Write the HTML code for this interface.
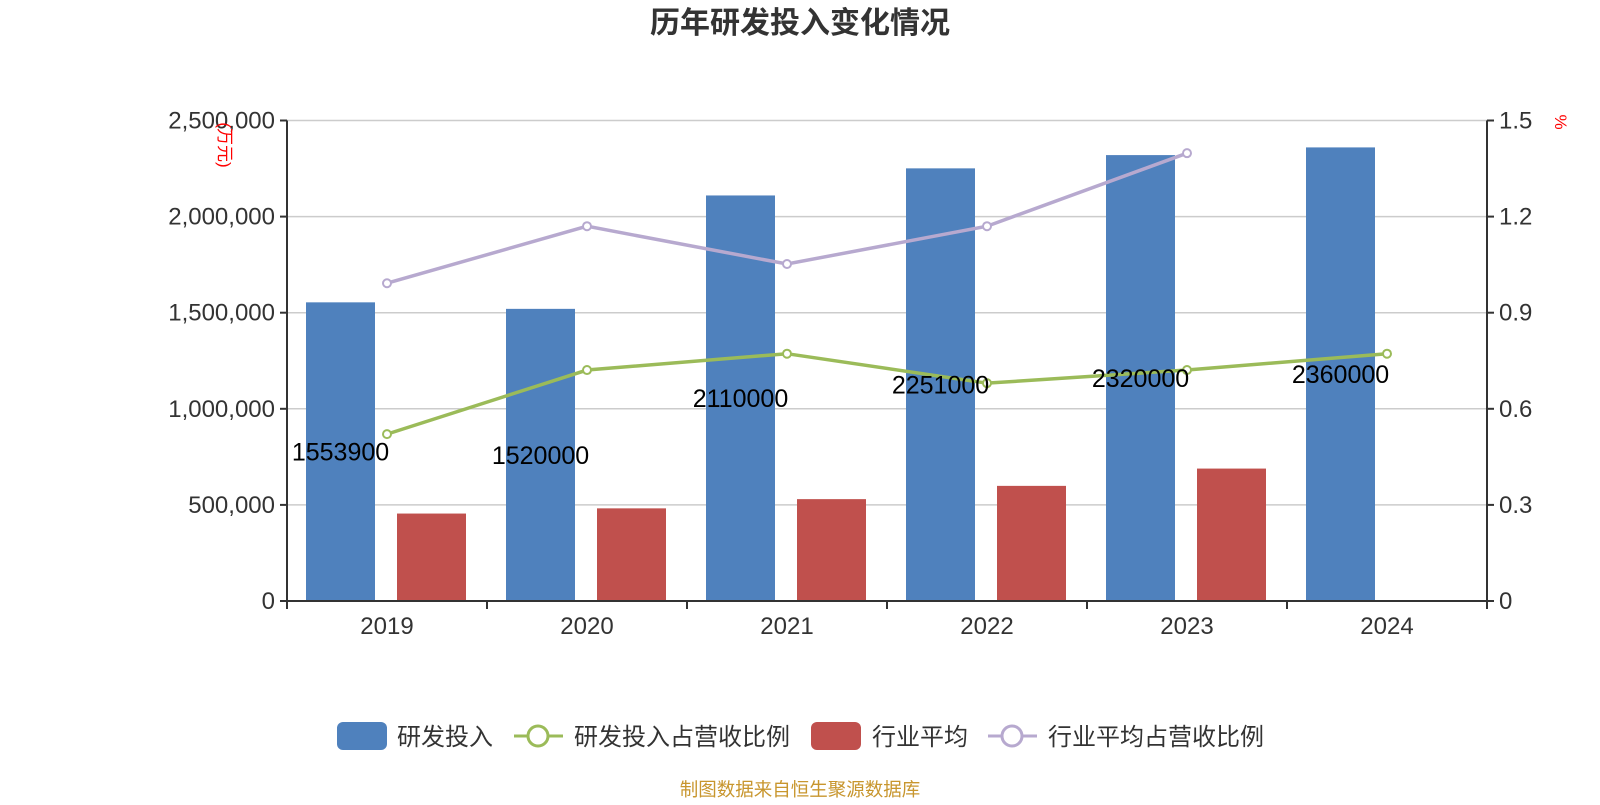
<!DOCTYPE html>
<html><head><meta charset="utf-8"><style>
body{margin:0;background:#fff;}
svg text{font-family:"Liberation Sans","Noto Sans CJK SC",sans-serif;}
</style></head><body>
<svg id="c" width="1600" height="800" xmlns="http://www.w3.org/2000/svg"></svg>
<script>
const categories=['2019','2020','2021','2022','2023','2024'];
const rdValues=[1553900,1520000,2110000,2251000,2320000,2360000];
const industryAvg=[455000,482000,530000,599000,689000,null];
const rdRatio=[0.521,0.721,0.772,0.68,0.721,0.772];
const industryRatio=[0.992,1.17,1.052,1.17,1.398,null];
const leftTicks=[0,500000,1000000,1500000,2000000,2500000];
const leftTickLabels=['0','500,000','1,000,000','1,500,000','2,000,000','2,500,000'];
const rightTicks=[0,0.3,0.6,0.9,1.2,1.5];
const rightTickLabels=['0','0.3','0.6','0.9','1.2','1.5'];

const svg=document.getElementById('c');
const NS='http://www.w3.org/2000/svg';
const L=287,R=1487,T=120.5,B=601;
const band=(R-L)/categories.length;
const yL=v=>B-(v/2500000)*(B-T);
const yR=v=>B-(v/1.5)*(B-T);
const xC=i=>L+band*(i+0.5);
function mk(tag,attrs,parent){const e=document.createElementNS(NS,tag);for(const k in attrs)e.setAttribute(k,attrs[k]);(parent||svg).appendChild(e);return e;}
function tx(x,y,s,attrs,parent){const e=mk('text',Object.assign({x:x,y:y},attrs),parent);e.textContent=s;return e;}

let t=tx(800,33,'历年研发投入变化情况',{'font-size':30,'font-weight':'bold','fill':'#333','text-anchor':'middle'});



leftTicks.forEach((v,i)=>{
  const y=yL(v);
  if(v>0){const g=mk('line',{x1:L,x2:R,y1:y,y2:y,stroke:'#ccc','stroke-width':1.5});
  
  }
  mk('line',{x1:L-7,x2:L,y1:y,y2:y,stroke:'#333','stroke-width':2});
  const e=tx(L-12,y+8,leftTickLabels[i],{'font-size':24,fill:'#333','text-anchor':'end'});
  
  
});
rightTicks.forEach((v,i)=>{
  const y=yR(v);
  mk('line',{x1:R,x2:R+7,y1:y,y2:y,stroke:'#333','stroke-width':2});
  const e=tx(R+12,y+8,rightTickLabels[i],{'font-size':24,fill:'#333','text-anchor':'start'});
  
  
});
t=tx(0,0,'(万元)',{'font-size':17,fill:'red',transform:'translate(219,145) rotate(90)','text-anchor':'middle'});


t=tx(0,0,'%',{'font-size':17,fill:'red',transform:'translate(1555,122) rotate(90)','text-anchor':'middle'});



const bw=69;
categories.forEach((c,i)=>{
  const x0=L+band*i;
  const h=B-yL(rdValues[i]);
  const b=mk('rect',{x:x0+19,y:yL(rdValues[i]),width:bw,height:h,fill:'#4f81bd'});
  
  
  if(industryAvg[i]!=null){
    const r=mk('rect',{x:x0+110,y:yL(industryAvg[i]),width:bw,height:B-yL(industryAvg[i]),fill:'#c0504d'});
    
    
  }
  mk('line',{x1:x0,x2:x0,y1:B,y2:B+8,stroke:'#333','stroke-width':2});
  const e=tx(xC(i),B+33,c,{'font-size':24,fill:'#333','text-anchor':'middle'});
  
  
});
mk('line',{x1:R,x2:R,y1:B,y2:B+8,stroke:'#333','stroke-width':2});

let a=mk('line',{x1:L,x2:L,y1:T,y2:B,stroke:'#333','stroke-width':2});


a=mk('line',{x1:R,x2:R,y1:T,y2:B,stroke:'#333','stroke-width':2});


a=mk('line',{x1:L,x2:R,y1:B,y2:B,stroke:'#333','stroke-width':2});



function drawLine(vals,color,name){
  const pts=[];vals.forEach((v,i)=>{if(v!=null)pts.push([xC(i),yR(v)]);});
  const p=mk('polyline',{points:pts.map(p=>p.join(',')).join(' '),fill:'none',stroke:color,'stroke-width':3.5});
  
  
  pts.forEach(q=>{const c=mk('circle',{cx:q[0],cy:q[1],r:4,fill:'#fff',stroke:color,'stroke-width':2});
  
  });
}
drawLine(industryRatio,'#b7a9cf','industry-ratio');
drawLine(rdRatio,'#9bbb59','rd-ratio');

rdValues.forEach((v,i)=>{
  const x0=L+band*i;
  const y=(yL(v)+B)/2;
  const e=tx(x0+19+bw/2,y+9,String(v),{'font-size':25,fill:'#000','text-anchor':'middle'});
  
  
});

let g=mk('g',{});


mk('rect',{x:337,y:722,width:50,height:28,rx:6,fill:'#4f81bd'},g);
tx(397,745,'研发投入',{'font-size':24,fill:'#333'},g);
g=mk('g',{});


mk('line',{x1:514,x2:563,y1:736,y2:736,stroke:'#9bbb59','stroke-width':3},g);
mk('circle',{cx:538,cy:736,r:10,fill:'#fff',stroke:'#9bbb59','stroke-width':3},g);
tx(574,745,'研发投入占营收比例',{'font-size':24,fill:'#333'},g);
g=mk('g',{});


mk('rect',{x:811,y:722,width:50,height:28,rx:6,fill:'#c0504d'},g);
tx(872,745,'行业平均',{'font-size':24,fill:'#333'},g);
g=mk('g',{});


mk('line',{x1:988,x2:1037,y1:736,y2:736,stroke:'#b7a9cf','stroke-width':3},g);
mk('circle',{cx:1012,cy:736,r:10,fill:'#fff',stroke:'#b7a9cf','stroke-width':3},g);
tx(1048,745,'行业平均占营收比例',{'font-size':24,fill:'#333'},g);

t=tx(800,796,'制图数据来自恒生聚源数据库',{'font-size':18.5,fill:'#c8962e','text-anchor':'middle'});


</script>
</body></html>
